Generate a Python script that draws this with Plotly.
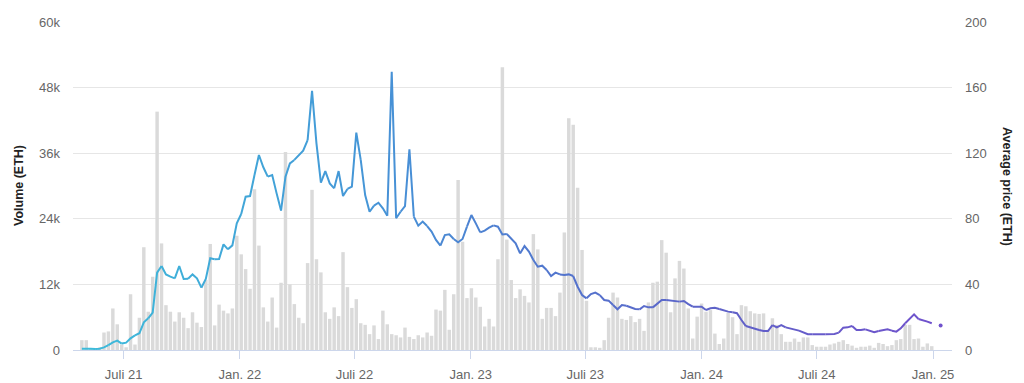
import datetime as dt
import plotly.graph_objects as go

START = dt.date(2021, 4, 26)

volume_k = [
    1.8, 1.8, 0.3, 0.3, 0.5, 3.2, 3.4, 7.6, 4.7, 1.0,
    0.5, 10.2, 1.0, 5.9, 18.8, 7.0, 13.4, 43.6, 19.5, 8.2,
    7.0, 5.2, 6.9, 5.9, 4.0, 6.9, 5.0, 4.2, 12.8, 19.4,
    4.5, 8.3, 7.2, 6.7, 7.6, 20.9, 17.5, 14.8, 11.2, 29.4,
    19.1, 7.8, 5.2, 9.6, 4.1, 12.3, 36.2, 12.0, 8.4, 5.9,
    4.9, 15.9, 29.3, 16.6, 14.2, 6.9, 5.7, 7.8, 6.2, 17.9,
    11.5, 7.7, 9.3, 4.9, 4.6, 2.9, 4.5, 2.0, 7.2, 4.7,
    2.9, 2.7, 2.3, 4.1, 2.4, 2.0, 2.7, 2.3, 3.2, 2.6,
    7.4, 7.2, 11.0, 3.7, 10.2, 31.1, 19.8, 9.5, 11.3, 9.6,
    7.9, 4.3, 5.7, 4.3, 16.6, 51.7, 20.2, 12.8, 9.5, 11.1,
    9.9, 8.7, 21.2, 18.4, 5.7, 7.7, 7.7, 6.2, 10.5, 21.5,
    42.4, 41.2, 29.7, 18.3, 9.0, 0.5, 0.5, 0.4, 1.8, 5.9,
    10.5, 9.6, 5.7, 5.5, 6.2, 5.1, 5.7, 3.5, 8.7, 12.3,
    12.5, 20.1, 17.8, 6.9, 13.1, 16.3, 14.9, 7.6, 2.1, 6.1,
    8.5, 7.0, 7.3, 3.0, 1.1, 2.1, 6.8, 6.0, 2.9, 8.2,
    8.0, 7.1, 6.7, 6.6, 6.7, 3.7, 5.8, 4.6, 2.9, 1.5,
    1.5, 2.1, 1.5, 2.3, 2.3, 0.9, 0.6, 0.6, 0.6, 1.0,
    1.2, 1.5, 1.8, 1.1, 0.8, 0.4, 0.6, 0.6, 0.8, 0.4,
    1.3, 1.1, 0.7, 0.9, 1.8, 2.0, 4.6, 4.6, 2.0, 2.1,
    0.6, 1.2, 0.7,
]

avg_price = [
    0.8, 1.0, 0.8, 0.6, 0.8, 1.6, 3.0, 4.7, 5.7, 3.9,
    4.5, 7.1, 8.9, 10.2, 16.9, 19.3, 22.8, 47.2, 51.2, 46.1,
    44.7, 43.7, 51.2, 43.3, 43.5, 46.1, 43.7, 38.0, 43.3, 55.9,
    55.3, 55.5, 64.4, 61.4, 63.8, 77.2, 82.9, 93.5, 93.9, 106.7,
    118.9, 111.4, 105.7, 106.7, 95.5, 85.0, 105.7, 113.8, 115.9, 118.9,
    121.5, 128.0, 158.0, 126.0, 102.0, 109.1, 101.6, 98.6, 109.1, 93.9,
    98.2, 99.6, 132.5, 115.9, 94.5, 84.3, 88.0, 89.8, 86.4, 81.9,
    169.7, 80.3, 84.3, 87.8, 122.4, 81.3, 75.8, 78.3, 75.6, 72.2,
    67.1, 63.6, 70.1, 70.5, 67.7, 65.7, 67.7, 75.2, 82.3, 77.2,
    71.7, 72.8, 74.6, 76.0, 75.2, 70.5, 70.7, 67.5, 65.0, 58.9,
    63.4, 60.0, 54.9, 50.8, 51.4, 48.8, 45.1, 47.2, 46.1, 45.7,
    46.1, 45.1, 38.6, 33.5, 31.5, 34.1, 35.0, 33.5, 30.5, 30.1,
    27.4, 24.8, 27.4, 27.0, 26.0, 25.0, 24.8, 26.8, 26.0, 26.0,
    28.5, 30.5, 30.5, 30.1, 29.5, 29.5, 29.9, 28.0, 26.4, 26.4,
    26.4, 24.4, 25.4, 25.8, 25.0, 24.0, 23.4, 23.0, 22.4, 18.3,
    14.6, 13.8, 12.8, 12.2, 11.6, 11.6, 15.2, 13.8, 15.2, 13.8,
    13.2, 12.6, 11.8, 10.6, 9.6, 9.6, 9.6, 9.8, 9.6, 9.6,
    9.8, 10.6, 13.6, 13.8, 14.6, 12.2, 12.2, 12.6, 11.8, 10.8,
    11.6, 12.2, 12.6, 11.8, 11.2, 13.2, 16.3, 19.3, 21.7, 18.9,
    18.3, 17.3, 16.3,
]

last_price_week = 194
last_price = 15.0

tick_dates = ["2021-07-01", "2022-01-01", "2022-07-01", "2023-01-01",
              "2023-07-01", "2024-01-01", "2024-07-01", "2025-01-01"]
tick_labels = ["Juli 21", "Jan. 22", "Juli 22", "Jan. 23",
               "Juli 23", "Jan. 24", "Juli 24", "Jan. 25"]
vol_ticks = [0, 12000, 24000, 36000, 48000, 60000]
vol_tick_labels = ["0", "12k", "24k", "36k", "48k", "60k"]
price_ticks = [0, 40, 80, 120, 160, 200]

weeks_vol = [START + dt.timedelta(weeks=i) for i in range(len(volume_k))]
weeks_price = [START + dt.timedelta(weeks=i) for i in range(len(avg_price))]

fig = go.Figure()
fig.add_trace(go.Bar(
    x=weeks_vol, y=[v * 1000 for v in volume_k],
    marker=dict(color="rgb(218,218,218)", line=dict(width=0)),
    yaxis="y", showlegend=False, hoverinfo="skip",
))

stops = [(0.0, (60, 188, 218)), (0.35, (70, 148, 215)), (0.55, (82, 118, 206)),
         (0.75, (94, 98, 200)), (1.0, (112, 82, 204))]


def color_at(t):
    for (t0, c0), (t1, c1) in zip(stops[:-1], stops[1:]):
        if t <= t1:
            f = (t - t0) / (t1 - t0) if t1 > t0 else 0
            return "rgb(%d,%d,%d)" % tuple(round(a + (b - a) * f) for a, b in zip(c0, c1))
    return "rgb(%d,%d,%d)" % stops[-1][1]


n = len(avg_price)
step = 3
for s in range(0, n - 1, step):
    e = min(s + step, n - 1)
    t = (s + e) / 2 / (n - 1)
    fig.add_trace(go.Scatter(
        x=weeks_price[s:e + 1], y=avg_price[s:e + 1], mode="lines",
        line=dict(color=color_at(t), width=2), yaxis="y2",
        showlegend=False, hoverinfo="skip",
    ))

fig.add_trace(go.Scatter(
    x=[START + dt.timedelta(weeks=last_price_week)], y=[last_price],
    mode="markers", marker=dict(color=color_at(1.0), size=4),
    yaxis="y2", showlegend=False, hoverinfo="skip",
))

font_family = "Liberation Sans, Arial, sans-serif"
ML, MR, MT, MB = 73, 72, 22, 33
plot_w = 1024 - ML - MR

fig.update_layout(
    width=1024, height=383,
    margin=dict(l=ML, r=MR, t=MT, b=MB, autoexpand=False),
    paper_bgcolor="white", plot_bgcolor="white",
    bargap=0.22,
    font=dict(family=font_family, size=13, color="#666666"),
    xaxis=dict(
        type="date", range=["2021-04-12", "2025-01-31"],
        tickvals=tick_dates, ticktext=tick_labels,
        showgrid=False, showline=True, linecolor="#ccd6eb", linewidth=1,
        ticks="outside", ticklen=8, tickcolor="#ccd6eb",
        ticklabelstandoff=4, automargin=False,
        tickfont=dict(size=13, color="#666666"), zeroline=False,
    ),
    yaxis=dict(
        range=[0, 60000], tickvals=vol_ticks, ticktext=vol_tick_labels,
        showgrid=True, gridcolor="#e6e6e6", gridwidth=1, zeroline=False,
        showline=False, ticks="", ticklabelstandoff=12, automargin=False,
        tickfont=dict(size=13, color="#666666"),
    ),
    yaxis2=dict(
        range=[0, 200], tickvals=price_ticks, overlaying="y", side="right",
        showgrid=False, zeroline=False, showline=False, ticks="",
        ticklabelstandoff=12, automargin=False,
        tickfont=dict(size=13, color="#666666"),
    ),
    annotations=[
        dict(text="<b>Volume (ETH)</b>", xref="paper", yref="paper",
             x=(19 - ML) / plot_w, y=0.5, showarrow=False, textangle=-90,
             font=dict(size=12.5, color="#222222"), xanchor="center", yanchor="middle"),
        dict(text="<b>Average price (ETH)</b>", xref="paper", yref="paper",
             x=(1007 - ML) / plot_w, y=0.5, showarrow=False, textangle=90,
             font=dict(size=12.5, color="#222222"), xanchor="center", yanchor="middle"),
    ],
)

fig.write_html("out.html")
